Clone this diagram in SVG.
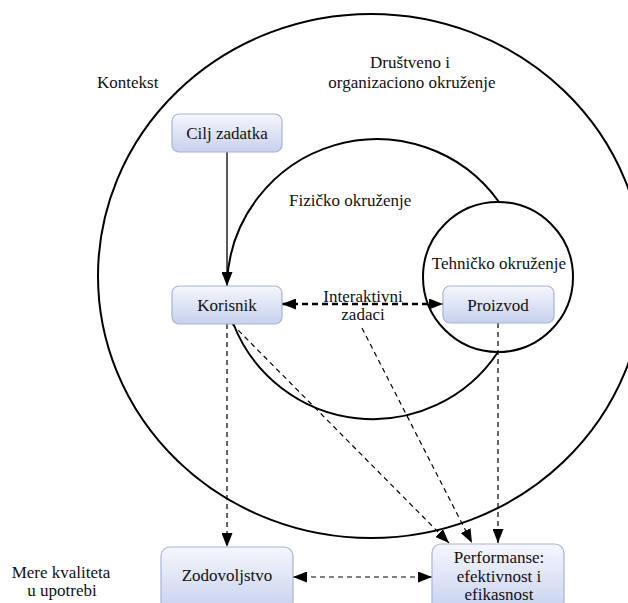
<svg xmlns="http://www.w3.org/2000/svg" width="628" height="603" viewBox="0 0 628 603">
  <defs>
    <linearGradient id="boxFill" x1="0" y1="0" x2="0" y2="1">
      <stop offset="0" stop-color="#f5f7fd"/>
      <stop offset="1" stop-color="#c7d1ee"/>
    </linearGradient>
    <marker id="arrow" markerUnits="userSpaceOnUse" markerWidth="14" markerHeight="11" refX="14" refY="5.5" orient="auto-start-reverse">
      <path d="M0,0 L14,5.5 L0,11 z" fill="#000"/>
    </marker>
    <style>
      .ring { fill: none; stroke: #000; stroke-width: 2; }
      .box { fill: url(#boxFill); stroke: #a8b4d6; stroke-width: 1.2; }
      text { font-family: "Liberation Serif", "Times New Roman", Times, "DejaVu Serif", serif; font-size: 17px; fill: #111; }
      .mid { text-anchor: middle; }
      .solid { fill: none; stroke: #000; stroke-width: 1.3; }
      .dash { fill: none; stroke: #000; stroke-width: 1.2; stroke-dasharray: 5 4; }
      .dashBold { fill: none; stroke: #000; stroke-width: 2.6; stroke-dasharray: 6 4; }
    </style>
  </defs>

  <rect width="628" height="603" fill="#fff"/>

  <!-- environment rings -->
  <g id="rings">
    <ellipse class="ring" cx="371" cy="276" rx="273" ry="262"/>
    <path class="ring" d="M233,323 A150,150 0 0 0 498,352"/>
    <path class="ring" d="M499,202 A150,150 0 0 0 227,283"/>
    <circle cx="498" cy="277" r="75" fill="#fff" stroke="#000" stroke-width="2"/>
  </g>

  <g id="ring-labels">
    <text x="97" y="88">Kontekst</text>
    <text class="mid" x="410" y="68">Društveno i</text>
    <text class="mid" x="412" y="88">organizaciono okruženje</text>
    <text x="289" y="206">Fizičko okruženje</text>
    <text class="mid" x="499" y="269">Tehničko okruženje</text>
    <text class="mid" x="61" y="578">Mere kvaliteta</text>
    <text class="mid" x="62" y="596">u upotrebi</text>
  </g>

  <!-- connectors -->
  <g id="connectors">
    <line class="solid" x1="227" y1="152" x2="227" y2="286" marker-end="url(#arrow)"/>
    <line class="dashBold" x1="282" y1="304" x2="443" y2="304" marker-start="url(#arrow)" marker-end="url(#arrow)"/>
    <line class="dash" x1="227" y1="324" x2="227" y2="547" marker-end="url(#arrow)"/>
    <line class="dash" x1="232" y1="324" x2="449" y2="543" marker-end="url(#arrow)"/>
    <line class="dash" x1="362" y1="328" x2="472" y2="543" marker-end="url(#arrow)"/>
    <line class="dash" x1="498" y1="323" x2="498" y2="543" marker-end="url(#arrow)"/>
    <line class="dash" x1="293" y1="577" x2="432" y2="577" marker-start="url(#arrow)" marker-end="url(#arrow)"/>
    <text class="mid" x="363" y="302">Interaktivni</text>
    <text class="mid" x="363" y="320">zadaci</text>
  </g>

  <!-- nodes -->
  <g id="cilj">
    <rect class="box" x="172" y="114" width="110" height="38" rx="7"/>
    <text class="mid" x="227" y="139">Cilj zadatka</text>
  </g>
  <g id="korisnik">
    <rect class="box" x="172" y="286" width="110" height="38" rx="7"/>
    <text class="mid" x="227" y="311">Korisnik</text>
  </g>
  <g id="proizvod">
    <rect class="box" x="443" y="286" width="111" height="37" rx="7"/>
    <text class="mid" x="498" y="311">Proizvod</text>
  </g>
  <g id="zadovoljstvo">
    <rect class="box" x="161" y="547" width="132" height="64" rx="9"/>
    <text class="mid" x="227" y="581">Zodovoljstvo</text>
  </g>
  <g id="performanse">
    <rect class="box" x="432" y="544" width="132" height="68" rx="9"/>
    <text class="mid" x="499" y="563">Performanse:</text>
    <text class="mid" x="499" y="582">efektivnost i</text>
    <text class="mid" x="499" y="600">efikasnost</text>
  </g>
</svg>
